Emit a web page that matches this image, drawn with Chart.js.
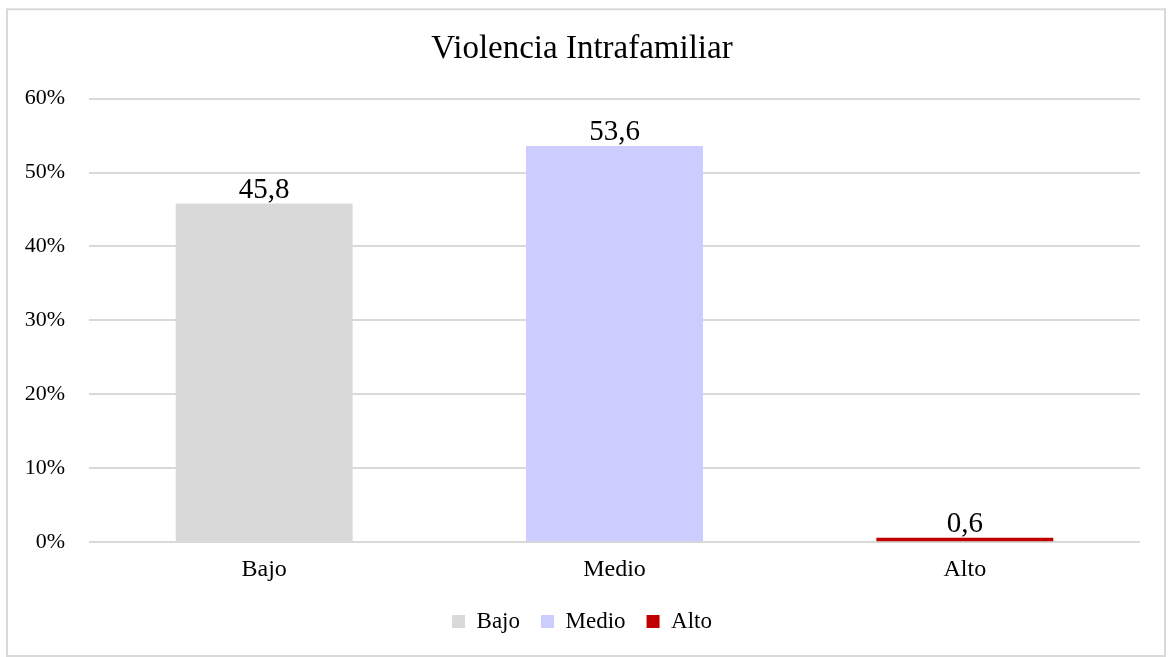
<!DOCTYPE html>
<html>
<head>
<meta charset="utf-8">
<script src="https://cdn.jsdelivr.net/npm/chart.js@4/dist/chart.umd.min.js"></script>
<style>
  html, body { margin: 0; padding: 0; background: #ffffff; }
  #wrap { position: relative; width: 1169px; height: 657px; }
</style>
</head>
<body>
<div id="wrap"><canvas id="violenciaChart"></canvas></div>
<script>
// Datos
const categorias = ['Bajo', 'Medio', 'Alto'];
const porcentajes = [45.8, 53.6, 0.6];
const colores = ['#D9D9D9', '#CCCCFF', '#C00000'];
const etiquetasValor = ['45,8', '53,6', '0,6'];
const ticksY = [0, 10, 20, 30, 40, 50, 60];

const FUENTE = '"Liberation Serif", "Times New Roman", serif';

// Marco gris alrededor de todo el grafico
const marcoPlugin = {
    id: 'marco',
    afterDraw(chart) {
        const ctx = chart.ctx;
        ctx.save();
        ctx.strokeStyle = '#D9D9D9';
        ctx.lineWidth = 2;
        ctx.strokeRect(7, 9.3, 1158, 646.7);
        ctx.restore();
    }
};

// Valores encima de cada barra
const valoresPlugin = {
    id: 'valores',
    afterDatasetsDraw(chart) {
        const ctx = chart.ctx;
        const meta = chart.getDatasetMeta(0);
        ctx.save();
        ctx.font = '29px ' + FUENTE;
        ctx.fillStyle = '#000000';
        ctx.textAlign = 'center';
        ctx.textBaseline = 'alphabetic';
        meta.data.forEach((bar, i) => {
            ctx.fillText(etiquetasValor[i], bar.x, bar.y - 6);
        });
        ctx.restore();
    }
};

const ctx = document.getElementById('violenciaChart');
new Chart(ctx, {
    type: 'bar',
    data: {
        labels: categorias,
        datasets: [{
            label: 'Violencia Intrafamiliar',
            data: porcentajes,
            backgroundColor: colores,
            borderWidth: 0,
            barPercentage: 0.505,
            categoryPercentage: 1
        }]
    },
    options: {
        responsive: true,
        maintainAspectRatio: false,
        animation: false,
        layout: { padding: { top: 10, right: 29, bottom: 14, left: 24 } },
        plugins: {
            title: {
                display: true,
                text: 'Violencia Intrafamiliar',
                color: '#000000',
                font: { family: FUENTE, size: 33, weight: 'normal' },
                padding: { top: 20, bottom: 29 }
            },
            legend: {
                position: 'bottom',
                onClick: null,
                labels: {
                    color: '#000000',
                    font: { family: FUENTE, size: 23 },
                    boxWidth: 13,
                    boxHeight: 13,
                    padding: 21,
                    generateLabels: () => categorias.map((c, i) => ({
                        text: c,
                        fillStyle: colores[i],
                        strokeStyle: colores[i],
                        lineWidth: 0,
                        index: i
                    }))
                }
            },
            tooltip: { enabled: false }
        },
        scales: {
            x: {
                grid: { display: false },
                border: { display: false },
                ticks: { color: '#000000', font: { family: FUENTE, size: 24 }, padding: 5 }
            },
            y: {
                min: 0,
                max: 60,
                afterBuildTicks: (axis) => { axis.ticks = ticksY.map(v => ({ value: v })); },
                afterFit: (axis) => { axis.width = 65; },
                grid: { color: '#D9D9D9', lineWidth: 2, drawTicks: false },
                border: { display: false },
                ticks: {
                    color: '#000000',
                    font: { family: FUENTE, size: 22 },
                    padding: 24,
                    callback: (v) => v + '%'
                }
            }
        }
    },
    plugins: [marcoPlugin, valoresPlugin]
});
</script>
</body>
</html>
